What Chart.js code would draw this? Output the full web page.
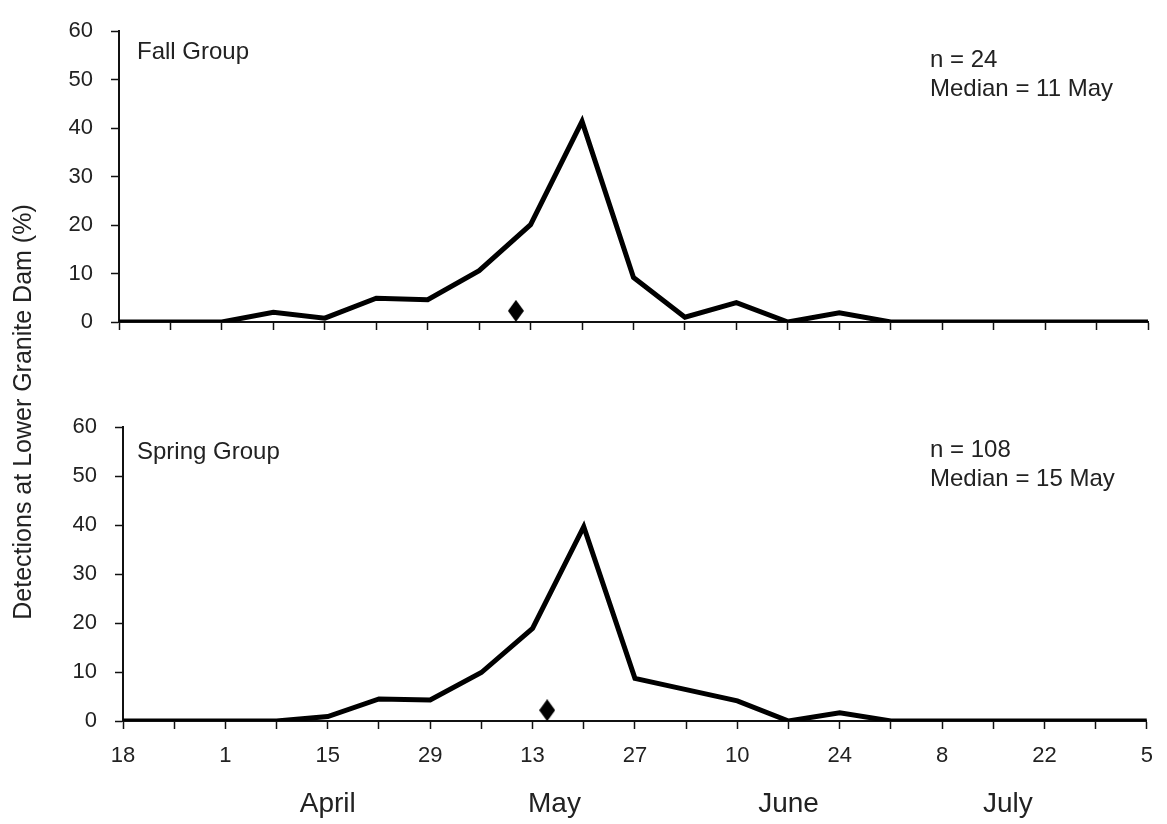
<!DOCTYPE html>
<html>
<head>
<meta charset="utf-8">
<script src="https://cdn.jsdelivr.net/npm/chart.js@4.4.1/dist/chart.umd.min.js"></script>
<style>
html,body{margin:0;padding:0;background:#fff;}
#wrap{position:relative;width:1167px;height:824px;overflow:hidden;font-family:"Liberation Sans",Arial,sans-serif;color:#222;}
canvas{position:absolute;left:0;}
#c1{top:0;}
#c2{top:396px;}
.t{position:absolute;white-space:nowrap;font-size:24px;line-height:29px;}
#ytitle{position:absolute;left:-228px;top:397px;width:500px;text-align:center;font-size:25px;line-height:30px;white-space:nowrap;transform:rotate(-90deg);transform-origin:50% 50%;}
</style>
</head>
<body>
<div id="wrap">
  <canvas id="c1" width="1167" height="360"></canvas>
  <canvas id="c2" width="1167" height="428"></canvas>
  <div class="t" style="left:137px;top:36px;">Fall Group</div>
  <div class="t" style="left:930px;top:44px;">n = 24<br>Median = 11 May</div>
  <div class="t" style="left:137px;top:436px;">Spring Group</div>
  <div class="t" style="left:930px;top:434px;">n = 108<br>Median = 15 May</div>
  <div id="ytitle">Detections at Lower Granite Dam (%)</div>
</div>
<script>
// Weekly sample days, counted from 18 March (day 0) to 5 August (day 140)
const days = [0,7,14,21,28,35,42,49,56,63,70,77,84,91,98,105,112,119,126,133,140];
// Percent of detections per week
const fallPct   = [0,0,0,2.0,0.8,4.9,4.6,10.6,20.1,41.4,9.2,1.0,4.0,0,1.9,0,0,0,0,0,0];
const springPct = [0,0,0,0,0.9,4.5,4.3,9.9,18.9,39.7,8.7,6.4,4.1,0,1.7,0,0,0,0,0,0];
// Tick labels every 14 days starting 18 March
const xTickLabels = ["18","1","15","29","13","27","10","24","8","22","5"];
const yTicks = [0,10,20,30,40,50,60];
const monthNames = ["April","May","June","July"];
const monthCenters = [28,59,91,121];
// Medians: 11 May (day 54), 15 May (day 58)
const medianFall = [{x:54, y:2.3}];
const medianSpring = [{x:58, y:2.2}];

const FAM = '"Liberation Sans", Arial, sans-serif';

// diamond marker image
const dia = document.createElement('canvas');
dia.width = 16; dia.height = 22;
(function(){
  const g = dia.getContext('2d');
  g.fillStyle = '#000';
  g.beginPath();
  g.moveTo(8,0); g.lineTo(16,11); g.lineTo(8,22); g.lineTo(0,11); g.closePath();
  g.fill();
})();

function makeChart(id, values, median, cfg) {
  const scales = {
    x: {
      type: 'linear', min: 0, max: 140, position: 'bottom',
      afterBuildTicks: s => { s.ticks = days.map(v => ({value: v})); },
      afterFit: s => { s.height = cfg.xHeight; },
      grid: {drawOnChartArea: false, drawTicks: true, tickLength: 8, tickWidth: 1.5, tickColor: '#111'},
      border: {display: true, color: '#111', width: 2},
      ticks: {
        autoSkip: false, maxRotation: 0, padding: 14, color: '#222',
        font: {family: FAM, size: 22},
        callback: v => (cfg.showLabels && v % 14 === 0) ? xTickLabels[v / 14] : ''
      }
    },
    y: {
      min: 0, max: 60,
      afterBuildTicks: s => { s.ticks = yTicks.map(v => ({value: v})); },
      afterFit: s => { s.width = cfg.yWidth; },
      grid: {drawOnChartArea: false, drawTicks: true, tickLength: 8, tickWidth: 1.5, tickColor: '#111'},
      border: {display: true, color: '#111', width: 2},
      ticks: {padding: 18, color: '#222', font: {family: FAM, size: 22}}
    }
  };
  if (cfg.months) {
    scales.x2 = {
      type: 'linear', min: 0, max: 140, position: 'bottom',
      afterBuildTicks: s => { s.ticks = monthCenters.map(v => ({value: v})); },
      afterFit: s => { s.height = 53; },
      grid: {display: false, drawTicks: false},
      border: {display: false},
      ticks: {
        autoSkip: false, maxRotation: 0, padding: 16, color: '#222',
        font: {family: FAM, size: 28},
        callback: v => monthNames[monthCenters.indexOf(v)]
      }
    };
  }
  return new Chart(document.getElementById(id), {
    type: 'line',
    data: {
      datasets: [
        {
          type: 'scatter', data: median, pointStyle: dia, pointRadius: 8,
          showLine: false, order: 0
        },
        {
          data: days.map((d, i) => ({x: d, y: values[i]})),
          borderColor: '#000', borderWidth: 5, pointRadius: 0, tension: 0,
          borderJoinStyle: 'miter', borderCapStyle: 'butt', fill: false, order: 1
        }
      ]
    },
    options: {
      responsive: false, animation: false, events: [],
      layout: {padding: {left: 0, right: cfg.padRight, top: cfg.padTop, bottom: 0}},
      plugins: {legend: {display: false}, tooltip: {enabled: false}},
      scales: scales
    }
  });
}

makeChart('c1', fallPct, medianFall, {xHeight: 38, yWidth: 119, padRight: 19, padTop: 20, showLabels: false, months: false});
makeChart('c2', springPct, medianSpring, {xHeight: 50, yWidth: 123, padRight: 15, padTop: 21, showLabels: true, months: true});
</script>
</body>
</html>
